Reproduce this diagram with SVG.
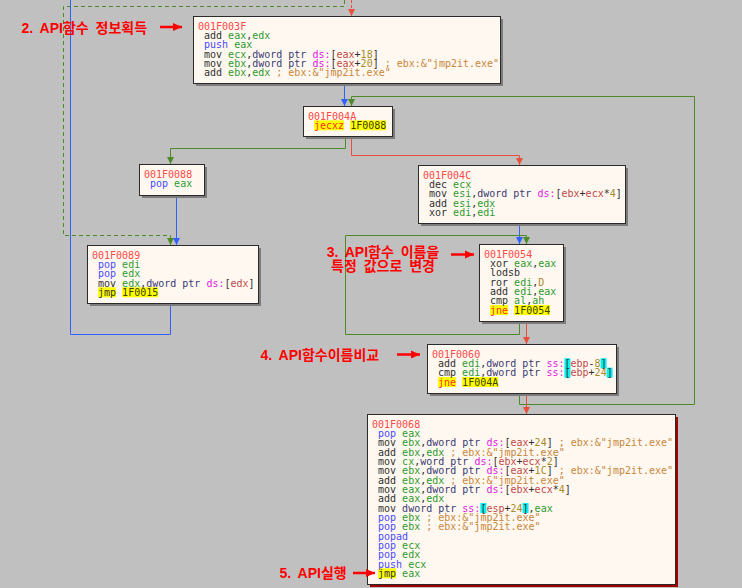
<svg xmlns="http://www.w3.org/2000/svg" width="742" height="588" viewBox="0 0 742 588">
<style>
.bg{fill:#c0c0c0}
.bx{fill:#fff8f0;stroke:#2a2a2a;stroke-width:1}
.sh{fill:#7c7c7c}
.shr{fill:#a00000}
text{font-family:"DejaVu Sans Mono",monospace;font-size:10px;fill:#303030}
.lb{fill:#ff4848}
.mn{fill:#303030}
.pp{fill:#4848ff}
.rg{fill:#2e9a2e}
.pt{fill:#3a3a70}
.sg{fill:#e020e0}
.mr{fill:#c04848}
.nm{fill:#a88a28}
.cm{fill:#c8863a}
.jr{fill:#ff2a2a}
.ad{fill:#404000}
.hy{fill:#ffff00}
.hc{fill:#00f0f0}
.cb{fill:none;stroke:#3060ff;stroke-width:1}
.cg{fill:none;stroke:#4e8a2a;stroke-width:1}
.cr{fill:none;stroke:#e8503c;stroke-width:1}
.dash{stroke-dasharray:4,3}
.ann{font-family:"Liberation Sans","Noto Sans CJK KR",sans-serif;font-size:14px;font-weight:bold;fill:#ff0000;word-spacing:3px}
.aline{stroke:#ff0000;stroke-width:2.5;fill:none}
</style>
<defs>
<marker id="ab" markerWidth="8" markerHeight="8" refX="7" refY="4" orient="auto" markerUnits="userSpaceOnUse"><path d="M0,0.5 L7,4 L0,7.5z" fill="#3060ff"/></marker>
<marker id="ag" markerWidth="8" markerHeight="8" refX="7" refY="4" orient="auto" markerUnits="userSpaceOnUse"><path d="M0,0.5 L7,4 L0,7.5z" fill="#4e8a2a"/></marker>
<marker id="ar" markerWidth="8" markerHeight="8" refX="7" refY="4" orient="auto" markerUnits="userSpaceOnUse"><path d="M0,0.5 L7,4 L0,7.5z" fill="#e8503c"/></marker>
<marker id="aa" markerWidth="10" markerHeight="10" refX="9" refY="5" orient="auto" markerUnits="userSpaceOnUse"><path d="M0,1 L9,5 L0,9z" fill="#ff0000"/></marker>
</defs>
<rect class="bg" x="0" y="0" width="742" height="588"/>

<g id="connectors">
<polyline class="cr dash" points="351.5,0 351.5,16" marker-end="url(#ar)" style="stroke-dasharray:3,2"/>
<polyline class="cg dash" points="344.5,0 344.5,6.5 63.5,6.5 63.5,235.5 170.5,235.5 170.5,245" marker-end="url(#ag)"/>
<polyline class="cb" points="170.5,303 170.5,334.5 70.5,334.5 70.5,0"/>
<polyline class="cb" points="344.5,83 344.5,106" marker-end="url(#ab)"/>
<polyline class="cg" points="519.5,393 519.5,404.5 694.5,404.5 694.5,96.5 351.5,96.5 351.5,106" marker-end="url(#ag)"/>
<polyline class="cg" points="345.5,136 345.5,148.5 170.5,148.5 170.5,164" marker-end="url(#ag)"/>
<polyline class="cr" points="351.5,136 351.5,155.5 519.5,155.5 519.5,165" marker-end="url(#ar)"/>
<polyline class="cb" points="176.5,195 176.5,245" marker-end="url(#ab)"/>
<polyline class="cb" points="519.5,223 519.5,244" marker-end="url(#ab)"/>
<polyline class="cg" points="519.5,321 519.5,334.5 345.5,334.5 345.5,235.5 526.5,235.5 526.5,244" marker-end="url(#ag)"/>
<polyline class="cr" points="526.5,321 526.5,344" marker-end="url(#ar)"/>
<polyline class="cr" points="526.5,393 526.5,414" marker-end="url(#ar)"/>
</g>

<g id="n001F003F">
<rect class="sh" x="196" y="19" width="307" height="67"/>
<rect class="bx" x="193.5" y="16.5" width="307" height="67"/>
<text class="lb" x="198" y="29.5">001F003F</text>
<text x="204.02" y="38.83"><tspan class="mn">add</tspan> <tspan class="rg">eax</tspan>,<tspan class="rg">edx</tspan></text>
<text x="204.02" y="48.17"><tspan class="pp">push</tspan> <tspan class="rg">eax</tspan></text>
<text x="204.02" y="57.5"><tspan class="mn">mov</tspan> <tspan class="rg">ecx</tspan>,<tspan class="pt">dword ptr</tspan> <tspan class="sg">ds:</tspan>[<tspan class="mr">eax</tspan>+<tspan class="nm">18</tspan>]</text>
<text x="204.02" y="66.83"><tspan class="mn">mov</tspan> <tspan class="rg">ebx</tspan>,<tspan class="pt">dword ptr</tspan> <tspan class="sg">ds:</tspan>[<tspan class="mr">eax</tspan>+<tspan class="nm">20</tspan>] <tspan class="cm">; ebx:&amp;"jmp2it.exe"</tspan></text>
<text x="204.02" y="76.17"><tspan class="mn">add</tspan> <tspan class="rg">ebx</tspan>,<tspan class="rg">edx</tspan> <tspan class="cm">; ebx:&amp;"jmp2it.exe"</tspan></text>
</g>

<g id="n001F004A">
<rect class="sh" x="306" y="109" width="89" height="30"/>
<rect class="bx" x="303.5" y="106.5" width="89" height="30"/>
<rect class="hy" x="314.02" y="120.3" width="30.1" height="10"/>
<rect class="hy" x="350.14" y="120.3" width="36.12" height="10"/>
<text class="lb" x="308" y="119.5">001F004A</text>
<text x="314.02" y="128.83"><tspan class="jr">jecxz</tspan> <tspan class="ad">1F0088</tspan></text>
</g>

<g id="n001F004C">
<rect class="sh" x="421" y="168" width="207" height="58"/>
<rect class="bx" x="418.5" y="165.5" width="207" height="58"/>
<text class="lb" x="423" y="178.5">001F004C</text>
<text x="429.02" y="187.83"><tspan class="mn">dec</tspan> <tspan class="rg">ecx</tspan></text>
<text x="429.02" y="197.17"><tspan class="mn">mov</tspan> <tspan class="rg">esi</tspan>,<tspan class="pt">dword ptr</tspan> <tspan class="sg">ds:</tspan>[<tspan class="mr">ebx</tspan>+<tspan class="mr">ecx</tspan>*<tspan class="nm">4</tspan>]</text>
<text x="429.02" y="206.5"><tspan class="mn">add</tspan> <tspan class="rg">esi</tspan>,<tspan class="rg">edx</tspan></text>
<text x="429.02" y="215.83"><tspan class="mn">xor</tspan> <tspan class="rg">edi</tspan>,<tspan class="rg">edi</tspan></text>
</g>

<g id="n001F0088">
<rect class="sh" x="142" y="167" width="65" height="31"/>
<rect class="bx" x="139.5" y="164.5" width="65" height="31"/>
<text class="lb" x="144" y="177.5">001F0088</text>
<text x="150.02" y="186.83"><tspan class="pp">pop</tspan> <tspan class="rg">eax</tspan></text>
</g>

<g id="n001F0089">
<rect class="sh" x="90" y="248" width="171" height="58"/>
<rect class="bx" x="87.5" y="245.5" width="171" height="58"/>
<rect class="hy" x="98.02" y="287.3" width="18.06" height="10"/>
<rect class="hy" x="122.1" y="287.3" width="36.12" height="10"/>
<text class="lb" x="92" y="258.5">001F0089</text>
<text x="98.02" y="267.83"><tspan class="pp">pop</tspan> <tspan class="rg">edi</tspan></text>
<text x="98.02" y="277.17"><tspan class="pp">pop</tspan> <tspan class="rg">edx</tspan></text>
<text x="98.02" y="286.5"><tspan class="mn">mov</tspan> <tspan class="rg">edx</tspan>,<tspan class="pt">dword ptr</tspan> <tspan class="sg">ds:</tspan>[<tspan class="mr">edx</tspan>]</text>
<text x="98.02" y="295.83"><tspan class="mn">jmp</tspan> <tspan class="ad">1F0015</tspan></text>
</g>

<g id="n001F0054">
<rect class="sh" x="482" y="247" width="84" height="77"/>
<rect class="bx" x="479.5" y="244.5" width="84" height="77"/>
<rect class="hy" x="490.02" y="305" width="18.06" height="10"/>
<rect class="hy" x="514.1" y="305" width="36.12" height="10"/>
<text class="lb" x="484" y="257.5">001F0054</text>
<text x="490.02" y="266.83"><tspan class="mn">xor</tspan> <tspan class="rg">eax</tspan>,<tspan class="rg">eax</tspan></text>
<text x="490.02" y="276.17"><tspan class="mn">lodsb</tspan></text>
<text x="490.02" y="285.5"><tspan class="mn">ror</tspan> <tspan class="rg">edi</tspan>,<tspan class="nm">D</tspan></text>
<text x="490.02" y="294.83"><tspan class="mn">add</tspan> <tspan class="rg">edi</tspan>,<tspan class="rg">eax</tspan></text>
<text x="490.02" y="304.17"><tspan class="mn">cmp</tspan> <tspan class="rg">al</tspan>,<tspan class="rg">ah</tspan></text>
<text x="490.02" y="313.5"><tspan class="jr">jne</tspan> <tspan class="ad">1F0054</tspan></text>
</g>

<g id="n001F0060">
<rect class="sh" x="430" y="347" width="189" height="49"/>
<rect class="bx" x="427.5" y="344.5" width="189" height="49"/>
<rect class="hc" x="564.44" y="358.3" width="6.02" height="10"/>
<rect class="hc" x="600.56" y="358.3" width="6.02" height="10"/>
<rect class="hc" x="564.44" y="367.67" width="6.02" height="10"/>
<rect class="hc" x="606.58" y="367.67" width="6.02" height="10"/>
<rect class="hy" x="438.02" y="377" width="18.06" height="10"/>
<rect class="hy" x="462.1" y="377" width="36.12" height="10"/>
<text class="lb" x="432" y="357.5">001F0060</text>
<text x="438.02" y="366.83"><tspan class="mn">add</tspan> <tspan class="rg">edi</tspan>,<tspan class="pt">dword ptr</tspan> <tspan class="sg">ss:</tspan>[<tspan class="mr">ebp</tspan>-<tspan class="nm">8</tspan>]</text>
<text x="438.02" y="376.17"><tspan class="mn">cmp</tspan> <tspan class="rg">edi</tspan>,<tspan class="pt">dword ptr</tspan> <tspan class="sg">ss:</tspan>[<tspan class="mr">ebp</tspan>+<tspan class="nm">24</tspan>]</text>
<text x="438.02" y="385.5"><tspan class="jr">jne</tspan> <tspan class="ad">1F004A</tspan></text>
</g>

<g id="n001F0068">
<rect class="shr" x="370" y="417" width="308" height="170"/>
<rect class="bx" x="367.5" y="414.5" width="308" height="170"/>
<rect class="hc" x="480.36" y="503" width="6.02" height="10"/>
<rect class="hc" x="522.5" y="503" width="6.02" height="10"/>
<rect class="hy" x="378.02" y="568.33" width="18.06" height="10"/>
<text class="lb" x="372" y="427.5">001F0068</text>
<text x="378.02" y="436.83"><tspan class="pp">pop</tspan> <tspan class="rg">eax</tspan></text>
<text x="378.02" y="446.17"><tspan class="mn">mov</tspan> <tspan class="rg">ebx</tspan>,<tspan class="pt">dword ptr</tspan> <tspan class="sg">ds:</tspan>[<tspan class="mr">eax</tspan>+<tspan class="nm">24</tspan>] <tspan class="cm">; ebx:&amp;"jmp2it.exe"</tspan></text>
<text x="378.02" y="455.5"><tspan class="mn">add</tspan> <tspan class="rg">ebx</tspan>,<tspan class="rg">edx</tspan> <tspan class="cm">; ebx:&amp;"jmp2it.exe"</tspan></text>
<text x="378.02" y="464.83"><tspan class="mn">mov</tspan> <tspan class="rg">cx</tspan>,<tspan class="pt">word ptr</tspan> <tspan class="sg">ds:</tspan>[<tspan class="mr">ebx</tspan>+<tspan class="mr">ecx</tspan>*<tspan class="nm">2</tspan>]</text>
<text x="378.02" y="474.17"><tspan class="mn">mov</tspan> <tspan class="rg">ebx</tspan>,<tspan class="pt">dword ptr</tspan> <tspan class="sg">ds:</tspan>[<tspan class="mr">eax</tspan>+<tspan class="nm">1C</tspan>] <tspan class="cm">; ebx:&amp;"jmp2it.exe"</tspan></text>
<text x="378.02" y="483.5"><tspan class="mn">add</tspan> <tspan class="rg">ebx</tspan>,<tspan class="rg">edx</tspan> <tspan class="cm">; ebx:&amp;"jmp2it.exe"</tspan></text>
<text x="378.02" y="492.83"><tspan class="mn">mov</tspan> <tspan class="rg">eax</tspan>,<tspan class="pt">dword ptr</tspan> <tspan class="sg">ds:</tspan>[<tspan class="mr">ebx</tspan>+<tspan class="mr">ecx</tspan>*<tspan class="nm">4</tspan>]</text>
<text x="378.02" y="502.17"><tspan class="mn">add</tspan> <tspan class="rg">eax</tspan>,<tspan class="rg">edx</tspan></text>
<text x="378.02" y="511.5"><tspan class="mn">mov</tspan> <tspan class="pt">dword ptr</tspan> <tspan class="sg">ss:</tspan>[<tspan class="mr">esp</tspan>+<tspan class="nm">24</tspan>],<tspan class="rg">eax</tspan></text>
<text x="378.02" y="520.83"><tspan class="pp">pop</tspan> <tspan class="rg">ebx</tspan> <tspan class="cm">; ebx:&amp;"jmp2it.exe"</tspan></text>
<text x="378.02" y="530.17"><tspan class="pp">pop</tspan> <tspan class="rg">ebx</tspan> <tspan class="cm">; ebx:&amp;"jmp2it.exe"</tspan></text>
<text x="378.02" y="539.5"><tspan class="pp">popad</tspan></text>
<text x="378.02" y="548.83"><tspan class="pp">pop</tspan> <tspan class="rg">ecx</tspan></text>
<text x="378.02" y="558.17"><tspan class="pp">pop</tspan> <tspan class="rg">edx</tspan></text>
<text x="378.02" y="567.5"><tspan class="pp">push</tspan> <tspan class="rg">ecx</tspan></text>
<text x="378.02" y="576.83"><tspan class="mn">jmp</tspan> <tspan class="rg">eax</tspan></text>
</g>

<g id="annotations">
<text class="ann" x="21.5" y="33">2. API함수 정보획득</text>
<line class="aline" x1="160" y1="27" x2="182" y2="27" marker-end="url(#aa)"/>
<text class="ann" x="383" y="256.5" text-anchor="middle">3. API함수 이름을</text>
<text class="ann" x="383" y="271" text-anchor="middle">특정 값으로 변경</text>
<line class="aline" x1="451" y1="254.5" x2="474" y2="254.5" marker-end="url(#aa)"/>
<text class="ann" x="260.5" y="360">4. API함수이름비교</text>
<line class="aline" x1="397" y1="354.5" x2="420" y2="354.5" marker-end="url(#aa)"/>
<text class="ann" x="279.5" y="577.5">5. API실행</text>
<line class="aline" x1="353" y1="573" x2="375" y2="573" marker-end="url(#aa)"/>
</g>
</svg>
